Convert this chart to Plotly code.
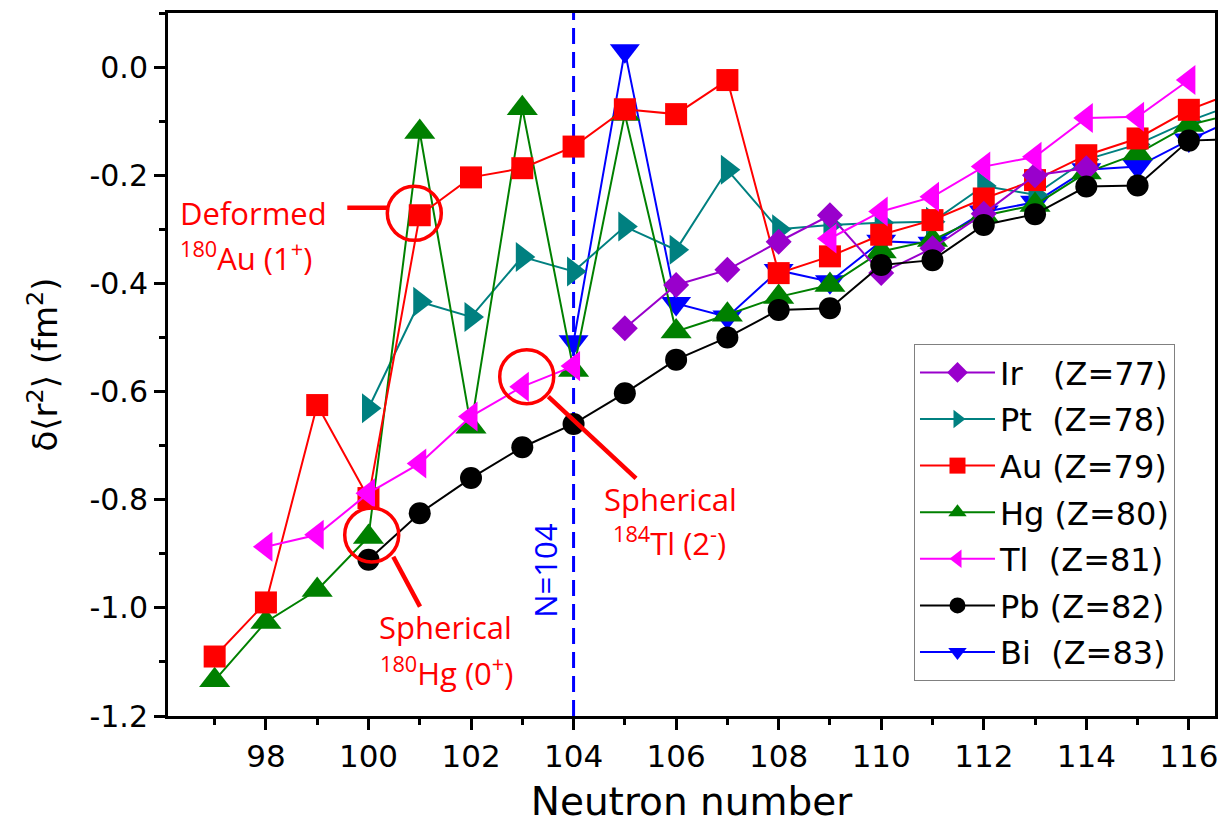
import plotly.graph_objects as go

# Neutron numbers covered by the isotope chains (N = 117 lies just past the right edge)
neutron = list(range(97, 118))

# Changes in mean-square charge radius, delta<r^2> (fm^2); None = not measured
ir = [None, None, None, None, None, None, None, None,
      -0.483, -0.403, -0.375, -0.323, -0.274, -0.381, -0.335, -0.271, -0.200, -0.187,
      None, None, None]
pt = [None, None, None,
      -0.631, -0.434, -0.462, -0.351, -0.378, -0.295, -0.338, -0.190, -0.300, -0.292,
      -0.288, -0.286, -0.220, -0.236, -0.171, -0.143, -0.100, -0.065]
au = [-1.090, -0.990, -0.625, -0.797, -0.274, -0.204, -0.187, -0.147, -0.078, -0.087,
      -0.024, -0.381, -0.350, -0.310, -0.283, -0.243, -0.209, -0.163, -0.132, -0.079, -0.043]
hg = [-1.134, -1.026, -0.967, -0.869, -0.120, -0.665, -0.076, -0.560, -0.087, -0.489,
      -0.458, -0.425, -0.403, -0.341, -0.320, -0.275, -0.255, -0.195, -0.160, -0.107, -0.084]
tl = [None, -0.887, -0.865, -0.788, -0.733, -0.646, -0.591, -0.553,
      None, None, None, None,
      -0.317, -0.267, -0.240, -0.184, -0.166, -0.094, -0.092, -0.024, None]
pb = [None, None, None,
      -0.911, -0.825, -0.760, -0.703, -0.660, -0.603, -0.541, -0.500, -0.449, -0.446,
      -0.366, -0.357, -0.292, -0.272, -0.221, -0.219, -0.136, -0.133]
bi = [None, None, None, None, None, None, None,
      -0.508, 0.030, -0.437, -0.462, -0.376, -0.397, -0.322, -0.326, -0.268, -0.250,
      -0.190, -0.184, -0.135, -0.092]

x_tickvals = [98, 100, 102, 104, 106, 108, 110, 112, 114, 116]
x_ticktext = ["98", "100", "102", "104", "106", "108", "110", "112", "114", "116"]
y_tickvals = [0.0, -0.2, -0.4, -0.6, -0.8, -1.0, -1.2]
y_ticktext = ["0.0", "-0.2", "-0.4", "-0.6", "-0.8", "-1.0", "-1.2"]

shell_n = 104  # mid-shell neutron number

NB = "\u00a0"
# (name, values, colour, symbol, size, legend rank) in drawing order (bottom -> top)
series = [
    ("Bi" + NB * 2 + "(Z=83)", bi, "#0000FF", "triangle-down", 26, 7),
    ("Pt" + NB * 2 + "(Z=78)", pt, "#008080", "triangle-right", 26, 2),
    ("Hg" + NB + "(Z=80)", hg, "#008000", "triangle-up", 27, 4),
    ("Au" + NB + "(Z=79)", au, "#FF0000", "square", 22, 3),
    ("Ir" + NB * 3 + "(Z=77)", ir, "#9900CC", "diamond", 20, 1),
    ("Tl" + NB * 2 + "(Z=81)", tl, "#FF00FF", "triangle-left", 26, 5),
    ("Pb" + NB + "(Z=82)", pb, "#000000", "circle", 22, 6),
]

fig = go.Figure()
for name, vals, color, symbol, size, rank in series:
    fig.add_trace(go.Scatter(
        x=neutron, y=vals, name=name, mode="lines+markers",
        line=dict(color=color, width=2),
        marker=dict(symbol=symbol, size=size, color=color, line=dict(width=0)),
        connectgaps=False, legendrank=rank, legendgroup=name,
    ))

ann_font = "Open Sans, Noto Sans, sans-serif"
red = "#FF0000"

annotations = [
    dict(x=96.285, y=-0.270, text="Deformed", xanchor="left"),
    dict(x=96.285, y=-0.351, text="<sup>180</sup>Au (1<sup>+</sup>)", xanchor="left"),
    dict(x=101.51, y=-1.036, text="Spherical", xanchor="center"),
    dict(x=101.53, y=-1.117, text="<sup>180</sup>Hg (0<sup>+</sup>)", xanchor="center"),
    dict(x=105.90, y=-0.799, text="Spherical", xanchor="center"),
    dict(x=105.88, y=-0.877, text="<sup>184</sup>Tl (2<sup>-</sup>)", xanchor="center"),
]
annotations = [dict(a, xref="x", yref="y", yanchor="middle", showarrow=False,
                    font=dict(family=ann_font, size=31, color=red)) for a in annotations]
annotations.append(dict(x=103.44, y=-0.93, xref="x", yref="y", text="N=104",
                        textangle=-90, showarrow=False, xanchor="center", yanchor="middle",
                        font=dict(family=ann_font, size=31, color="#0000FF")))

shapes = [
    # N = 104 marker line
    dict(type="line", xref="x", yref="paper", x0=shell_n, x1=shell_n, y0=0, y1=1,
         line=dict(color="#0000FF", width=3, dash="16px,8px"), layer="below"),
    # pointer lines to the highlighted states
    dict(type="line", xref="x", yref="y", x0=99.587, x1=100.387, y0=-0.260, y1=-0.260,
         line=dict(color=red, width=4.5)),
    dict(type="line", xref="x", yref="y", x0=103.508, x1=105.218, y0=-0.6095, y1=-0.7604,
         line=dict(color=red, width=4.5)),
    dict(type="line", xref="x", yref="y", x0=100.484, x1=101.005, y0=-0.9054, y1=-0.9978,
         line=dict(color=red, width=4.5)),
]
# rings around the highlighted states
for cx, cy in [(100.894, -0.2704), (103.086, -0.5725), (100.063, -0.8652)]:
    shapes.append(dict(type="circle", xref="x", yref="y", xsizemode="pixel", ysizemode="pixel",
                       xanchor=cx, yanchor=cy, x0=-27, x1=27, y0=-27, y1=27,
                       line=dict(color=red, width=3.5)))

axis_font = "DejaVu Sans, Arial, sans-serif"
fig.update_layout(
    width=1222, height=824,
    margin=dict(l=168, r=7, t=13, b=108),
    paper_bgcolor="white", plot_bgcolor="white",
    font=dict(family=axis_font, color="black"),
    showlegend=True,
    legend=dict(x=0.7125, y=0.529, xanchor="left", yanchor="top",
                bgcolor="white", bordercolor="#808080", borderwidth=1,
                font=dict(family=axis_font, size=32, color="black"),
                tracegroupgap=2, itemwidth=75),
    annotations=annotations,
    shapes=shapes,
)
fig.update_xaxes(
    range=[96.09, 116.51], showgrid=False, zeroline=False, automargin=False,
    showline=True, linewidth=3, linecolor="black", mirror=True,
    ticks="outside", ticklen=11, tickwidth=2.5, tickcolor="black",
    tickmode="array", tickvals=x_tickvals, ticktext=x_ticktext,
    tickfont=dict(family=axis_font, size=31),
    minor=dict(tickmode="linear", tick0=0, dtick=1, ticks="outside", ticklen=6,
               tickwidth=2.5, tickcolor="black"),
    title=dict(text="Neutron number", font=dict(family=axis_font, size=39), standoff=20),
)
fig.update_yaxes(
    range=[-1.2, 0.1], showgrid=False, zeroline=False, automargin=False,
    showline=True, linewidth=3, linecolor="black", mirror=True,
    ticks="outside", ticklen=11, tickwidth=2.5, tickcolor="black",
    tickmode="array", tickvals=y_tickvals, ticktext=y_ticktext,
    tickfont=dict(family=axis_font, size=30),
    minor=dict(tickmode="linear", tick0=0, dtick=0.1, ticks="outside", ticklen=6,
               tickwidth=2.5, tickcolor="black"),
    title=dict(text="\u03b4\u27e8r<sup>2</sup>\u27e9 (fm<sup>2</sup>)",
               font=dict(family=axis_font, size=34), standoff=22),
)

fig.write_html("out.html")
